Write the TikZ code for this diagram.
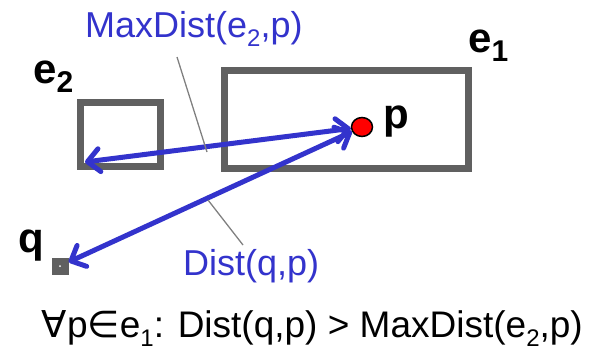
\documentclass[tikz,border=0pt]{standalone}
\usepackage{fontspec}
\setmainfont{Liberation Sans}
\newfontfamily\symf{DejaVu Sans}
\usetikzlibrary{arrows.meta,shapes.geometric}
\definecolor{lblue}{RGB}{51,51,204}
\definecolor{boxgray}{RGB}{96,96,96}
\newcommand\lsub[1]{\raisebox{-0.26em}{\fontsize{24}{24}\selectfont #1}}
\newcommand\bsub[1]{\raisebox{-0.22em}{\fontsize{30}{30}\selectfont\bfseries #1}}
\begin{document}
\begin{tikzpicture}[x=1pt,y=-1pt,
  box/.style={draw=boxgray, line width=7pt, inner sep=0pt},
  barbtip/.tip={Straight Barb[length=12pt,width=23pt,line cap=round,line join=round]},
  arr/.style={draw=lblue, line width=5pt, line cap=round, barbtip-barbtip},
  lead/.style={draw=gray, line width=1.3pt},
  lbl/.style={text=lblue, font=\fontsize{36}{40}\selectfont, inner sep=0pt},
  boldlbl/.style={font=\fontsize{42}{46}\selectfont\bfseries, inner sep=0pt}]
\useasboundingbox (0,0) rectangle (594,351);
% boxes
\node[box, minimum width=244pt, minimum height=98.7pt] (e1) at (346.6,119.4) {};
\node[box, minimum width=80pt, minimum height=64pt] (e2) at (120.5,134) {};
% points
\node[ellipse, draw=black, fill=red, line width=1.5pt, minimum width=21pt, minimum height=19pt, inner sep=0pt] (p) at (362,127) {};
\node[fill=boxgray, minimum size=17pt, inner sep=0pt] (q) at (60,266) {};
\fill[white] (q.center) circle (1pt);
% arrows
\coordinate (e2c) at (85,162);
\draw[arr] (p) -- (e2c);
\draw[arr] (p) -- (q);
% leader lines
\coordinate (l1a) at (177,57);
\coordinate (l1b) at (207,152);
\coordinate (l2a) at (208,200);
\coordinate (l2b) at (243,245);
\draw[lead] (l1a) -- (l1b);
\draw[lead] (l2a) -- (l2b);
% labels
\node[lbl, anchor=base west] (md) at (85,37) {MaxDist(e\lsub{2},p)};
\node[lbl, anchor=base west] (dq) at (183,275) {Dist(q,p)};
\node[boldlbl, anchor=base west] (le1) at (468,52) {e\bsub{1}};
\node[boldlbl, anchor=base west] (le2) at (33,83) {e\bsub{2}};
\node[boldlbl, anchor=base west] (lp) at (383,128) {p};
\node[boldlbl, anchor=base west] (lq) at (18,252) {q};
\node[anchor=base east, inner sep=0pt, font=\fontsize{37}{40}\selectfont] (cond) at (583,337) {{\symf ∀}p{\symf ∈}e\lsub{1}: Dist(q,p) > MaxDist(e\lsub{2},p)};
\end{tikzpicture}
\end{document}
